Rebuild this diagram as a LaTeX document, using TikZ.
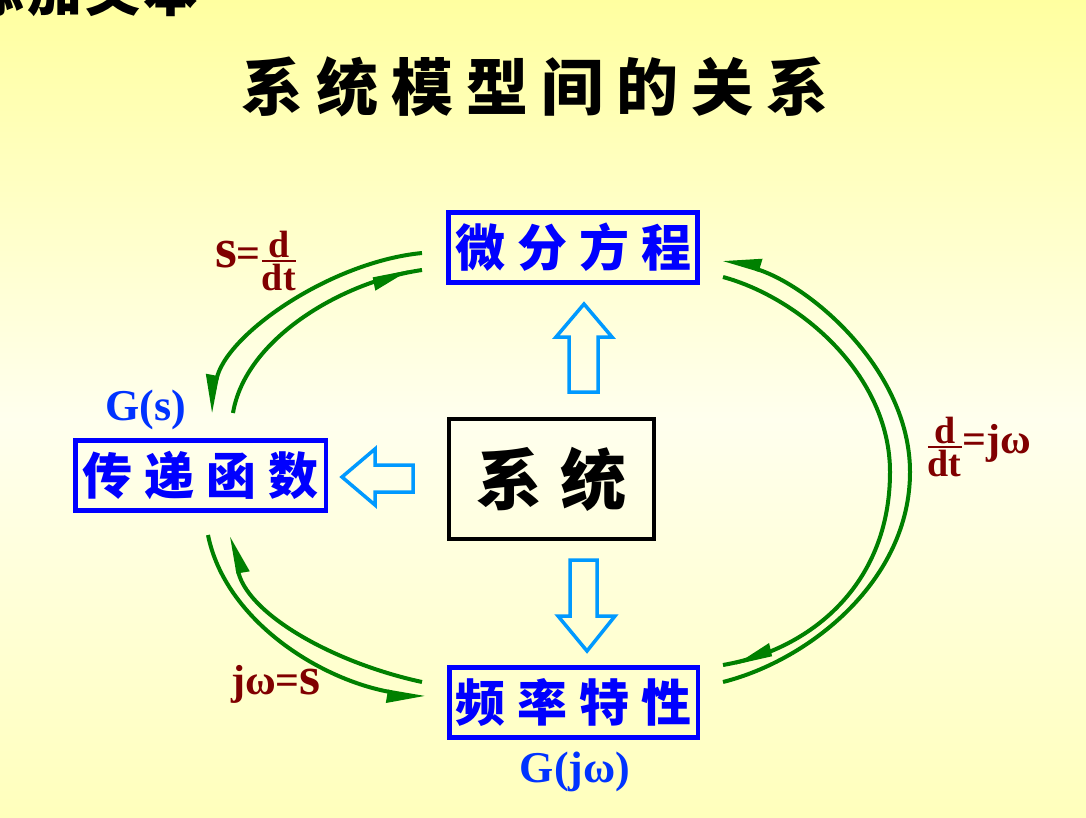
\documentclass[tikz,border=0pt]{standalone}
\usepackage{amsmath}
\usepackage{fontspec}
\setmainfont{Liberation Serif}
\newfontfamily\cjk{Noto Sans CJK SC}
\usetikzlibrary{arrows.meta,decorations.markings}
\definecolor{bgtop}{RGB}{255,255,160}
\definecolor{bgmid}{RGB}{255,255,238}
\definecolor{bgbot}{RGB}{255,255,188}
\definecolor{arcgreen}{RGB}{0,128,0}
\definecolor{lblred}{RGB}{128,0,0}
\definecolor{boxblue}{RGB}{0,0,255}
\definecolor{lblblue}{RGB}{0,51,255}
\definecolor{hollowblue}{RGB}{0,153,255}
\newcommand\cjkgap[1]{\hspace{#1pt}}
\newcommand\myfrac[2]{$\genfrac{}{}{2pt}{}{\hbox{#1}}{\hbox{#2}}$}
\begin{document}
\begin{tikzpicture}[x=1pt,y=-1pt,
  modelbox/.style={draw=boxblue, line width=4.5pt, minimum width=249pt,
    minimum height=70pt, inner sep=0pt, text=boxblue,
    font=\cjk\bfseries\fontsize{50}{50}\selectfont},
  sysbox/.style={draw=black, line width=4pt, minimum width=205pt,
    minimum height=120pt, inner sep=0pt, text=black,
    font=\cjk\bfseries\fontsize{66}{66}\selectfont},
  bluelbl/.style={text=lblblue, inner sep=0pt, font=\bfseries\fontsize{44}{44}\selectfont},
  redlbl/.style={text=lblred, inner sep=0pt, font=\bfseries\fontsize{38}{38}\selectfont},
  hollow/.style={draw=hollowblue, line width=3.5pt, line join=miter},
  arcline/.style={draw=arcgreen, line width=4pt},
  harp/.tip={Triangle[harpoon, swap, length=32pt, width=22pt]},
  endharp/.style={arcline, -{harp}},
  midharp/.style={arcline, decoration={markings,
      mark=at position -12pt with {\arrow{harp}}}, postaction={decorate}}
]
% background
\shade[top color=bgtop, bottom color=bgmid] (0,0) rectangle (1086,420);
\shade[top color=bgmid, bottom color=bgbot] (0,419) rectangle (1086,818);
\useasboundingbox (0,0) rectangle (1086,818);

% partial header text and title
\node[anchor=west, inner sep=0pt, font=\cjk\bfseries\fontsize{55}{55}\selectfont]
  (hdr) at (-31,-10) {添\cjkgap{3}加\cjkgap{3}文\cjkgap{3}本};
\node[inner sep=0pt, font=\cjk\bfseries\fontsize{62}{62}\selectfont]
  (title) at (535,87) {系\cjkgap{13}统\cjkgap{13}模\cjkgap{13}型\cjkgap{13}间\cjkgap{13}的\cjkgap{13}关\cjkgap{13}系};

% boxes
\node[modelbox] (wf) at (573,247.5) {微\cjkgap{12}分\cjkgap{12}方\cjkgap{12}程};
\node[modelbox, minimum width=250.5pt] (cd) at (200.5,475.5) {传\cjkgap{12}递\cjkgap{12}函\cjkgap{12}数};
\node[modelbox, minimum width=248.5pt] (pl) at (573.5,702.5) {频\cjkgap{12}率\cjkgap{12}特\cjkgap{12}性};
\node[sysbox] (sys) at (551.5,479) {系\cjkgap{18}统};

% labels
\node[bluelbl] (gs) at (146,410) {G(s)};
\node[bluelbl] (gjw) at (575,772) {G(jω)};
\node[redlbl] (l1) at (256,261) {{\fontsize{56}{56}\selectfont s}{\fontsize{42}{42}\selectfont =}\myfrac{d}{dt}};
\node[redlbl] (l2) at (979,447) {\myfrac{d}{dt}{\fontsize{42}{42}\selectfont =}{\fontsize{42}{42}\selectfont jω}};
\node[redlbl] (l3) at (276,684) {{\fontsize{42}{42}\selectfont jω=}{\fontsize{54}{54}\selectfont s}};

% hollow block arrows
\draw[hollow] (584,304) -- (612,337) -- (598,337) -- (598,392) -- (569,392)
  -- (569,337) -- (556,337) -- cycle;
\draw[hollow] (587,651) -- (615,616) -- (597,616) -- (597,560) -- (570,560)
  -- (570,616) -- (558,616) -- cycle;
\draw[hollow] (342,477) -- (375,449) -- (375,465) -- (413,465) -- (413,492)
  -- (375,492) -- (375,505) -- cycle;

% arc end points
\coordinate (tlO1) at (422,253);
\coordinate (tlO2) at (210,413);
\coordinate (tlI1) at (233,413);
\coordinate (tlI2) at (422,270);
\coordinate (rO1) at (723,682);
\coordinate (rOm) at (910,472);
\coordinate (rO2) at (723,259);
\coordinate (rI1) at (723,277);
\coordinate (rIm) at (890,472);
\coordinate (rI2) at (723,665);
\coordinate (blO1) at (208,535);
\coordinate (blO2) at (425,698);
\coordinate (blI1) at (422,682);
\coordinate (blI2) at (232,536);

% green arcs
\draw[endharp] (tlO1) .. controls (330,262) and (225,335) .. (tlO2);
\draw[midharp] (tlI1) .. controls (245,340) and (340,282) .. (tlI2);
\draw[endharp] (rO1) .. controls (810,660) and (910,580) .. (rOm)
  .. controls (910,370) and (810,285) .. (rO2);
\draw[midharp] (rI1) .. controls (800,298) and (890,375) .. (rIm)
  .. controls (890,585) and (810,650) .. (rI2);
\draw[endharp] (blO1) .. controls (225,620) and (320,680) .. (blO2);
\draw[endharp] (blI1) .. controls (330,662) and (245,612) .. (blI2);
\end{tikzpicture}
\end{document}
